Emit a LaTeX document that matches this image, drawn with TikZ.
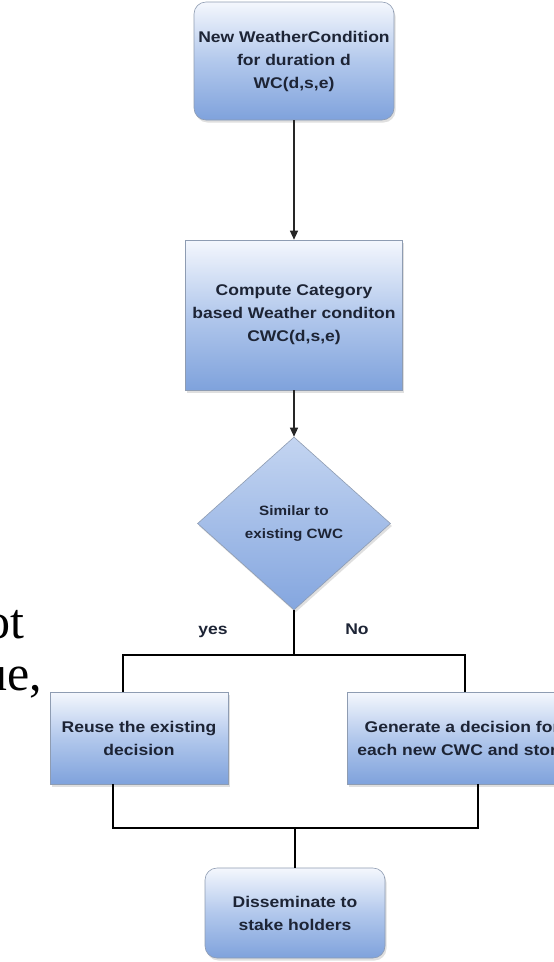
\documentclass[tikz,border=0pt]{standalone}
\usepackage{fontspec}
\setmainfont{Liberation Sans}
\newfontfamily\boxfont[FakeStretch=1.13]{Liberation Sans}
\newfontfamily\pagefont{Liberation Serif}
\usetikzlibrary{shapes.geometric,shadows,arrows.meta}
\definecolor{boxtop}{HTML}{F4F7FD}
\definecolor{boxmid}{HTML}{B2C8EC}
\definecolor{boxbot}{HTML}{7FA2DC}
\definecolor{dtop}{HTML}{C4D5F1}
\definecolor{dbot}{HTML}{84A6DF}
\definecolor{boxline}{HTML}{8E9CB2}
\definecolor{txt}{HTML}{1D2435}
\tikzset{
  flowbox/.style={draw=boxline, line width=0.6pt, top color=boxtop, bottom color=boxbot, middle color=boxmid,
    drop shadow={opacity=0.25, shadow xshift=1.5pt, shadow yshift=-2.5pt},
    text=txt, font=\boxfont\bfseries\fontsize{15.5}{23}\selectfont, align=center, inner sep=0pt},
  roundbox/.style={flowbox, rounded corners=12pt},
  decision/.style={diamond, draw=boxline, line width=0.6pt, top color=dtop, bottom color=dbot,
    drop shadow={opacity=0.25, shadow xshift=1.5pt, shadow yshift=-2.5pt},
    text=txt, font=\boxfont\bfseries\fontsize{13.5}{23}\selectfont, align=center, inner sep=0pt},
  arrowline/.style={-{Triangle[length=9pt,width=8pt]}, line width=1.2pt, draw=black!85},
  treeline/.style={line width=2.5pt, draw=black},
  branchlabel/.style={text=txt, font=\boxfont\bfseries\fontsize{15.5}{23}\selectfont, inner sep=0pt},
  pagetext/.style={font=\pagefont\fontsize{50}{50}\selectfont, inner sep=0pt, text=black},
}
\begin{document}
\begin{tikzpicture}[x=1pt, y=-1pt]
\useasboundingbox (0,0) rectangle (554,962);
\fill[white] (0,0) rectangle (554,962);

\node[pagetext, anchor=base east] (pt1) at (25,638) {ot};
\node[pagetext, anchor=base east] (pt2) at (42,690) {ue,};

\node[roundbox, minimum width=200pt, minimum height=118pt] (wc) at (294,61)
  {New WeatherCondition\\for duration d\\WC(d,s,e)};
\node[flowbox, minimum width=217pt, minimum height=150pt] (cwc) at (294,315)
  {Compute Category\\based Weather conditon\\CWC(d,s,e)};
\node[decision, minimum width=193pt, minimum height=173pt] (sim) at (294,523.5)
  {Similar to\\existing CWC};
\node[flowbox, minimum width=178pt, minimum height=92pt] (reuse) at (139,738)
  {Reuse the existing\\decision};
\node[flowbox, minimum width=230pt, minimum height=92pt] (gen) at (462,738)
  {Generate a decision for\\each new CWC and store};
\node[roundbox, minimum width=180pt, minimum height=90pt] (dis) at (295,913)
  {Disseminate to\\stake holders};

\node[branchlabel, anchor=base] (yes) at (213,634) {yes};
\node[branchlabel, anchor=base] (no) at (357,634) {No};

\draw[arrowline] (wc.south) -- (cwc.north);
\draw[arrowline] (cwc.south) -- (sim.north);

\coordinate (j) at (294,655);
\coordinate (jl) at (123,655);
\coordinate (jr) at (465,655);
\draw[treeline] (sim.south) -- (j);
\draw[treeline] (jl |- reuse.north) -- (jl) -- (jr) -- (jr |- gen.north);

\coordinate (bl) at (113,828);
\coordinate (br) at (478,828);
\draw[treeline] (bl |- reuse.south) -- (bl) -- (br) -- (br |- gen.south);
\draw[treeline] (bl -| dis.north) -- (dis.north);
\end{tikzpicture}
\end{document}
